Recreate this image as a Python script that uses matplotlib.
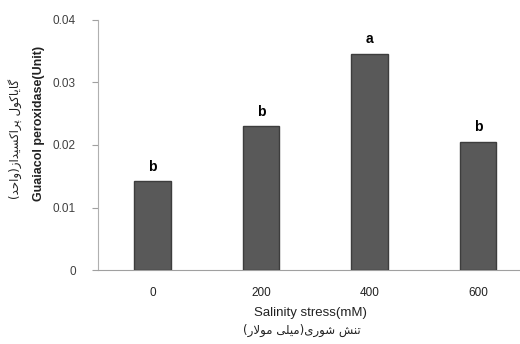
import numpy as np
import matplotlib
matplotlib.use("Agg")
import matplotlib.pyplot as plt

# Guaiacol peroxidase activity under salinity stress
salinity = ["0", "200", "400", "600"]
activity = [0.0142, 0.0230, 0.0346, 0.0205]
groups = ["b", "b", "a", "b"]

y_ticks = [0, 0.01, 0.02, 0.03, 0.04]
y_tick_labels = ["0", "0.01", "0.02", "0.03", "0.04"]

x_title = "Salinity stress(mM)"
x_title_fa = "تنش شوری(میلی مولار)"
y_title = "Guaiacol peroxidase(Unit)"
y_title_fa = "گایاکول پراکسیداز(واحد)"

# presentation forms: isolated, final, initial, medial
FORMS = {
    "ا": ("\uFE8D", "\uFE8E", None, None),
    "پ": ("\uFB56", "\uFB57", "\uFB58", "\uFB59"),
    "ت": ("\uFE95", "\uFE96", "\uFE97", "\uFE98"),
    "ح": ("\uFEA1", "\uFEA2", "\uFEA3", "\uFEA4"),
    "د": ("\uFEA9", "\uFEAA", None, None),
    "ر": ("\uFEAD", "\uFEAE", None, None),
    "ز": ("\uFEAF", "\uFEB0", None, None),
    "س": ("\uFEB1", "\uFEB2", "\uFEB3", "\uFEB4"),
    "ش": ("\uFEB5", "\uFEB6", "\uFEB7", "\uFEB8"),
    "ک": ("\uFB8E", "\uFB8F", "\uFB90", "\uFB91"),
    "گ": ("\uFB92", "\uFB93", "\uFB94", "\uFB95"),
    "ل": ("\uFEDD", "\uFEDE", "\uFEDF", "\uFEE0"),
    "م": ("\uFEE1", "\uFEE2", "\uFEE3", "\uFEE4"),
    "ن": ("\uFEE5", "\uFEE6", "\uFEE7", "\uFEE8"),
    "و": ("\uFEED", "\uFEEE", None, None),
    "ی": ("\uFBFC", "\uFBFD", "\uFBFE", "\uFBFF"),
}


def shape_rtl(text):
    """Join Persian letters and lay them out left to right for drawing."""
    def dual(c):
        return c in FORMS and FORMS[c][2] is not None

    out = []
    i, n = 0, len(text)
    while i < n:
        c = text[i]
        if c not in FORMS:
            out.append(c)
            i += 1
            continue
        right = i > 0 and dual(text[i - 1])
        if c == "ل" and i + 1 < n and text[i + 1] == "ا":
            out.append("\uFEFC" if right else "\uFEFB")
            i += 2
            continue
        left = dual(c) and i + 1 < n and text[i + 1] in FORMS
        iso, fin, ini, med = FORMS[c]
        if right and left:
            out.append(med)
        elif right:
            out.append(fin)
        elif left:
            out.append(ini)
        else:
            out.append(iso)
        i += 1
    mirror = {"(": ")", ")": "("}
    return "".join(mirror.get(c, c) for c in reversed(out))


plt.rcParams["font.family"] = ["Liberation Sans", "DejaVu Sans"]

fig = plt.figure(figsize=(5.2, 3.44), dpi=100)
ax = fig.add_axes([0.1885, 0.215, 0.8115, 0.727])

x = np.arange(len(salinity))
ax.bar(x, activity, width=0.335, color="#595959", edgecolor="#3d3d3d",
       linewidth=1.0, zorder=3)

for xi, v, g in zip(x, activity, groups):
    ax.text(xi, v + 0.0012, g, ha="center", va="bottom",
            fontsize=10, fontweight="bold", color="black")

ax.set_xlim(-0.502, 3.387)
ax.set_ylim(0, 0.04)
ax.set_yticks(y_ticks)
ax.set_yticklabels(y_tick_labels)
ax.set_xticks(x)
ax.set_xticklabels(salinity)

ax.tick_params(axis="y", length=4, width=0.8, color="#a0a0a0",
               labelsize=8.5, labelcolor="#404040", pad=12)
ax.tick_params(axis="x", length=0, labelsize=8.5, labelcolor="#222222", pad=12)

for side in ["top", "right"]:
    ax.spines[side].set_visible(False)
ax.spines["left"].set_color("#b0b0b0")
ax.spines["bottom"].set_color("#a0a0a0")
ax.spines["left"].set_linewidth(0.8)
ax.spines["bottom"].set_linewidth(0.8)

fig.text(0.597, 0.09, x_title, ha="center", va="center",
         fontsize=9.5, color="#222222")
fig.text(0.58, 0.04, shape_rtl(x_title_fa), ha="center", va="center",
         fontsize=8.5, color="#222222", family="DejaVu Sans")
fig.text(0.075, 0.642, y_title, ha="center", va="center", rotation=90,
         fontsize=9, fontweight="bold", color="#222222")
fig.text(0.029, 0.596, shape_rtl(y_title_fa), ha="center", va="center",
         rotation=90, fontsize=8.5, color="#222222", family="DejaVu Sans")

fig.savefig("out.png", dpi=100, facecolor="white")
